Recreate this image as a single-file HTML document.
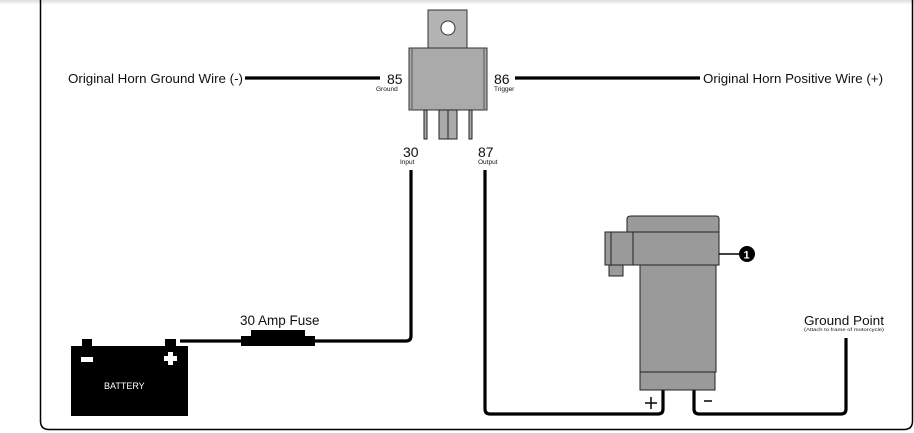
<!DOCTYPE html>
<html><head><meta charset="utf-8"><style>
html,body{margin:0;padding:0;background:#fff;}
svg{display:block;}
text{font-family:"Liberation Sans",sans-serif;fill:#111;}
</style></head><body>
<svg width="914" height="433" viewBox="0 0 914 433" xmlns="http://www.w3.org/2000/svg">
<defs><linearGradient id="tg" x1="0" y1="0" x2="0" y2="1"><stop offset="0" stop-color="#ddd"/><stop offset="1" stop-color="#fff"/></linearGradient></defs>
<rect x="0" y="0" width="914" height="5" fill="url(#tg)"/>
<path d="M40.5,0 V421 Q40.5,429.5 49,429.5 H904 Q912.5,429.5 912.5,421 V0" fill="none" stroke="#000" stroke-width="1.5"/>
<g fill="none" stroke="#000" stroke-width="3.2">
<line x1="245" y1="78" x2="380" y2="78"/>
<line x1="515" y1="78" x2="700" y2="78"/>
<path d="M411,170 V336 Q411,341 406,341 H315"/>
<line x1="180" y1="341" x2="241" y2="341"/>
<path d="M485,170 V409 Q485,414 490,414 H658 Q663,414 663,409 V390"/>
<path d="M694,390 V409 Q694,414 699,414 H841 Q846,414 846,409 V338"/>
</g>
<rect x="251" y="330" width="54" height="8" fill="#000"/>
<rect x="241" y="336" width="74" height="10" fill="#000"/>
<text x="240" y="325" font-size="13.5">30 Amp Fuse</text>
<rect x="71" y="346" width="117" height="70" fill="#000"/>
<rect x="82" y="339" width="10" height="8" fill="#000"/>
<rect x="165" y="339" width="11" height="8" fill="#000"/>
<rect x="81" y="357" width="12" height="5" fill="#fff"/>
<rect x="164" y="356" width="13" height="5" fill="#fff"/>
<rect x="168" y="352" width="5" height="13" fill="#fff"/>
<text x="104" y="389" font-size="9" style="fill:#fff">BATTERY</text>
<rect x="428" y="10" width="39" height="38" fill="#b3b3b3" stroke="#333" stroke-width="1"/>
<circle cx="448" cy="28" r="7" fill="#fff" stroke="#333" stroke-width="1"/>
<rect x="409" y="48" width="78" height="62" fill="#aaa" stroke="#333" stroke-width="1"/>
<line x1="412" y1="49" x2="412" y2="109" stroke="#555"/>
<line x1="484" y1="49" x2="484" y2="109" stroke="#555"/>
<rect x="424" y="110" width="3" height="29" fill="#aaa" stroke="#222" stroke-width="1"/>
<rect x="469" y="110" width="3" height="29" fill="#aaa" stroke="#222" stroke-width="1"/>
<rect x="439" y="110" width="18" height="29" fill="#aaa" stroke="#222" stroke-width="1"/>
<line x1="448" y1="110" x2="448" y2="139" stroke="#222"/>
<text x="387" y="84" font-size="14">85</text>
<text x="376" y="91" font-size="6.5">Ground</text>
<text x="494" y="84" font-size="14">86</text>
<text x="494" y="91" font-size="6.5">Trigger</text>
<text x="403" y="157" font-size="14">30</text>
<text x="400" y="164" font-size="6.5">Input</text>
<text x="478" y="157" font-size="14">87</text>
<text x="478" y="164" font-size="6.5">Output</text>
<text x="68" y="83" font-size="13" textLength="175" lengthAdjust="spacingAndGlyphs">Original Horn Ground Wire (-)</text>
<text x="703" y="83" font-size="13" textLength="180" lengthAdjust="spacingAndGlyphs">Original Horn Positive Wire (+)</text>
<g stroke="#222" stroke-width="1">
<path d="M627,233 V219 Q627,216 631,216 H716 Q719,216 719,219 V233 Z" fill="#9a9a9a"/>
<rect x="640" y="265" width="76" height="107" fill="#9a9a9a"/>
<rect x="640" y="372" width="75" height="18" fill="#9a9a9a"/>
<rect x="609" y="265" width="14" height="11" fill="#9a9a9a"/>
<rect x="605" y="232" width="114" height="33" fill="#9a9a9a"/>
<line x1="611" y1="232" x2="611" y2="265"/>
<line x1="633" y1="232" x2="633" y2="265"/>
</g>
<line x1="719" y1="254" x2="740" y2="254" stroke="#000" stroke-width="1.5"/>
<circle cx="747" cy="254" r="8" fill="#000"/>
<text x="743.5" y="258.5" font-size="11" font-weight="bold" style="fill:#fff">1</text>
<g stroke="#111" stroke-width="1.6">
<line x1="645" y1="403" x2="657" y2="403"/>
<line x1="651" y1="397" x2="651" y2="409"/>
<line x1="704" y1="401" x2="712" y2="401"/>
</g>
<text x="804" y="325" font-size="13" textLength="80" lengthAdjust="spacingAndGlyphs">Ground Point</text>
<text x="804" y="331" font-size="4.5" textLength="80" lengthAdjust="spacingAndGlyphs">(Attach to frame of motorcycle)</text>
</svg>
</body></html>
